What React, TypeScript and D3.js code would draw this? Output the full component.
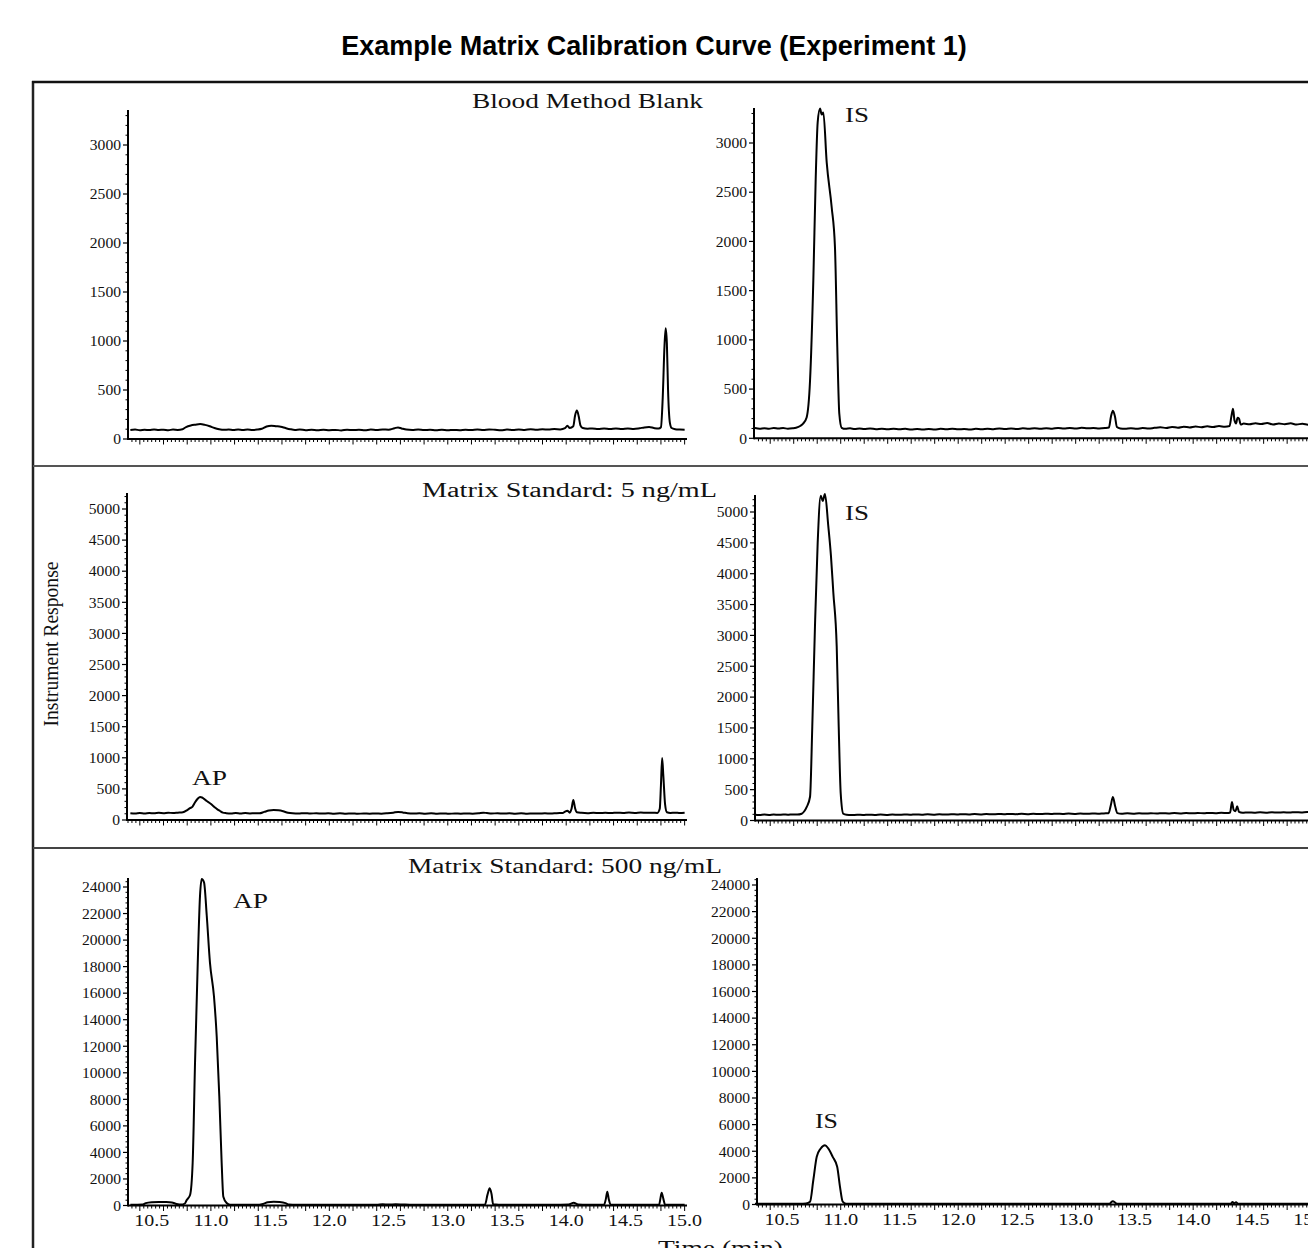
import React from "react";
import * as d3 from "d3";

type Pt = [number, number];

const W = 1308;
const H = 1248;

// ---------- axis tick values / labels ----------
const xTickValues = [10.5, 11.0, 11.5, 12.0, 12.5, 13.0, 13.5, 14.0, 14.5, 15.0];
const xTickLabels = ["10.5", "11.0", "11.5", "12.0", "12.5", "13.0", "13.5", "14.0", "14.5", "15.0"];
const yTicksBlank = [0, 500, 1000, 1500, 2000, 2500, 3000];
const yTicks5 = [0, 500, 1000, 1500, 2000, 2500, 3000, 3500, 4000, 4500, 5000];
const yTicks500 = [0, 2000, 4000, 6000, 8000, 10000, 12000, 14000, 16000, 18000, 20000, 22000, 24000];

// ---------- text ----------
const chartTitle = "Example Matrix Calibration Curve (Experiment 1)";
const panelTitles = ["Blood Method Blank", "Matrix Standard: 5 ng/mL", "Matrix Standard: 500 ng/mL"];
const yAxisTitle = "Instrument Response";
const xAxisTitle = "Time (min)";

// ---------- series: [time (min), response] ----------
const blankAnalyte: Pt[] = [
  [10.32, 92], [10.36, 96], [10.40, 90], [10.44, 95], [10.48, 91], [10.52, 97], [10.56, 92], [10.60, 95],
  [10.64, 90], [10.68, 96], [10.72, 93], [10.76, 100], [10.79, 122], [10.83, 138], [10.87, 146], [10.91, 152],
  [10.95, 144], [10.99, 130], [11.03, 112], [11.07, 100], [11.11, 94], [11.15, 97], [11.19, 91], [11.23, 96],
  [11.27, 92], [11.31, 98], [11.35, 93], [11.39, 96], [11.43, 104], [11.47, 128], [11.51, 136], [11.55, 131],
  [11.59, 126], [11.63, 112], [11.67, 100], [11.71, 93], [11.75, 97], [11.80, 90], [11.85, 94], [11.90, 89],
  [11.95, 95], [12.00, 90], [12.05, 93], [12.10, 88], [12.15, 94], [12.20, 91], [12.25, 95], [12.30, 90],
  [12.35, 96], [12.40, 92], [12.45, 98], [12.50, 95], [12.55, 110], [12.58, 118], [12.61, 108], [12.65, 96],
  [12.70, 92], [12.75, 97], [12.80, 91], [12.85, 95], [12.90, 90], [12.95, 94], [13.00, 89], [13.05, 93],
  [13.10, 90], [13.15, 95], [13.20, 91], [13.25, 96], [13.30, 92], [13.35, 98], [13.40, 94], [13.45, 90],
  [13.50, 96], [13.55, 92], [13.60, 97], [13.65, 93], [13.70, 99], [13.75, 95], [13.80, 100], [13.85, 96],
  [13.90, 101], [13.95, 98], [13.99, 110], [14.01, 135], [14.03, 112], [14.06, 130], [14.075, 240], [14.09, 290],
  [14.105, 235], [14.12, 140], [14.14, 112], [14.18, 105], [14.22, 108], [14.27, 103], [14.32, 107], [14.37, 101],
  [14.42, 106], [14.47, 102], [14.52, 108], [14.57, 103], [14.62, 110], [14.66, 118], [14.70, 122], [14.74, 112],
  [14.78, 106], [14.80, 120], [14.815, 420], [14.83, 950], [14.84, 1130], [14.85, 980], [14.86, 500], [14.875, 170],
  [14.89, 112], [14.92, 100], [14.96, 96], [15.0, 94],
];

const blankIS: Pt[] = [
  [10.27, 104], [10.31, 98], [10.35, 103], [10.39, 97], [10.43, 105], [10.47, 99], [10.51, 104], [10.55, 98],
  [10.59, 102], [10.62, 108], [10.655, 125], [10.68, 150], [10.71, 212], [10.739, 587], [10.767, 1607], [10.787, 2628],
  [10.804, 3210], [10.824, 3350], [10.838, 3290], [10.852, 3310], [10.881, 2800], [10.923, 2350], [10.951, 1945],
  [10.971, 925], [10.988, 250], [11.008, 107], [11.04, 96], [11.08, 101], [11.12, 95], [11.16, 100], [11.2, 94],
  [11.25, 99], [11.3, 93], [11.35, 98], [11.4, 92], [11.45, 97], [11.5, 91], [11.55, 96], [11.6, 90], [11.65, 95],
  [11.7, 89], [11.75, 94], [11.8, 90], [11.85, 96], [11.9, 92], [11.95, 97], [12.0, 91], [12.05, 95], [12.1, 90],
  [12.15, 96], [12.2, 92], [12.25, 98], [12.3, 93], [12.35, 99], [12.4, 94], [12.45, 100], [12.5, 95], [12.55, 101],
  [12.6, 96], [12.65, 102], [12.7, 97], [12.75, 103], [12.8, 98], [12.85, 104], [12.9, 99], [12.95, 105], [13.0, 100],
  [13.05, 106], [13.1, 101], [13.15, 105], [13.2, 100], [13.25, 104], [13.283, 110], [13.3, 220], [13.317, 280],
  [13.334, 225], [13.351, 115], [13.38, 100], [13.42, 96], [13.47, 102], [13.52, 97], [13.57, 104], [13.62, 99],
  [13.67, 106], [13.72, 112], [13.77, 105], [13.82, 115], [13.87, 108], [13.92, 118], [13.97, 110], [14.02, 120],
  [14.07, 112], [14.12, 122], [14.17, 114], [14.22, 124], [14.27, 118], [14.31, 125], [14.325, 220], [14.339, 300],
  [14.352, 180], [14.365, 150], [14.378, 210], [14.39, 200], [14.405, 140], [14.43, 150], [14.48, 142], [14.53, 152],
  [14.58, 145], [14.63, 155], [14.68, 140], [14.73, 150], [14.78, 143], [14.83, 152], [14.88, 140], [14.93, 148],
  [14.98, 138], [15.02, 145],
];

const std5Analyte: Pt[] = [
  [10.32, 110], [10.36, 105], [10.40, 112], [10.44, 106], [10.48, 113], [10.52, 107], [10.56, 115], [10.60, 110],
  [10.64, 117], [10.68, 112], [10.72, 118], [10.764, 125], [10.80, 160], [10.824, 190], [10.845, 215], [10.865, 280],
  [10.89, 345], [10.908, 370], [10.925, 362], [10.942, 340], [10.965, 305], [10.992, 270], [11.015, 235], [11.035, 200],
  [11.055, 170], [11.077, 145], [11.10, 118], [11.13, 110], [11.17, 106], [11.21, 112], [11.25, 105], [11.29, 111],
  [11.33, 106], [11.37, 110], [11.41, 108], [11.45, 130], [11.49, 152], [11.53, 160], [11.57, 155], [11.61, 140],
  [11.65, 118], [11.69, 108], [11.74, 104], [11.79, 110], [11.84, 104], [11.89, 109], [11.94, 103], [11.99, 108],
  [12.04, 102], [12.09, 107], [12.14, 101], [12.19, 106], [12.24, 100], [12.29, 105], [12.34, 101], [12.39, 106],
  [12.44, 102], [12.49, 108], [12.54, 118], [12.58, 130], [12.62, 122], [12.66, 108], [12.71, 103], [12.76, 108],
  [12.81, 102], [12.86, 107], [12.91, 101], [12.96, 106], [13.01, 100], [13.06, 105], [13.11, 101], [13.16, 106],
  [13.21, 102], [13.26, 108], [13.30, 118], [13.33, 112], [13.37, 104], [13.42, 109], [13.47, 103], [13.52, 108],
  [13.57, 102], [13.62, 107], [13.67, 101], [13.72, 106], [13.77, 103], [13.82, 108], [13.87, 104], [13.92, 110],
  [13.97, 112], [13.99, 135], [14.01, 150], [14.03, 118], [14.045, 180], [14.06, 320], [14.075, 190], [14.09, 125],
  [14.13, 115], [14.18, 110], [14.23, 116], [14.28, 111], [14.33, 117], [14.38, 112], [14.43, 118], [14.48, 113],
  [14.53, 119], [14.58, 114], [14.63, 120], [14.68, 115], [14.73, 118], [14.77, 114], [14.79, 180], [14.80, 560],
  [14.81, 997], [14.82, 720], [14.835, 250], [14.85, 125], [14.88, 114], [14.92, 118], [14.96, 112], [15.0, 116],
];

const std5IS: Pt[] = [
  [10.27, 95], [10.31, 90], [10.35, 96], [10.39, 91], [10.43, 97], [10.47, 92], [10.51, 98], [10.55, 93],
  [10.59, 99], [10.63, 96], [10.668, 110], [10.69, 150], [10.711, 220], [10.739, 385], [10.758, 1520], [10.781, 3150],
  [10.804, 4500], [10.83, 5265], [10.847, 5180], [10.866, 5290], [10.894, 4780], [10.917, 4290], [10.937, 3700],
  [10.966, 2820], [10.983, 1520], [11.0, 440], [11.022, 110], [11.05, 92], [11.09, 88], [11.14, 94], [11.19, 89],
  [11.24, 95], [11.29, 90], [11.34, 96], [11.39, 91], [11.44, 97], [11.49, 92], [11.54, 98], [11.59, 93], [11.64, 99],
  [11.69, 94], [11.74, 100], [11.79, 95], [11.84, 101], [11.89, 96], [11.94, 102], [11.99, 97], [12.04, 103],
  [12.09, 98], [12.14, 104], [12.19, 99], [12.24, 105], [12.29, 100], [12.34, 106], [12.39, 101], [12.44, 107],
  [12.49, 102], [12.54, 108], [12.59, 103], [12.64, 109], [12.69, 104], [12.74, 110], [12.79, 105], [12.84, 111],
  [12.89, 106], [12.94, 112], [12.99, 107], [13.04, 113], [13.09, 108], [13.14, 114], [13.19, 109], [13.24, 115],
  [13.28, 118], [13.298, 240], [13.317, 380], [13.336, 230], [13.355, 120], [13.39, 110], [13.44, 116], [13.49, 111],
  [13.54, 117], [13.59, 112], [13.64, 118], [13.69, 113], [13.74, 119], [13.79, 114], [13.84, 120], [13.89, 115],
  [13.94, 121], [13.99, 116], [14.04, 122], [14.09, 117], [14.14, 123], [14.19, 118], [14.24, 124], [14.29, 120],
  [14.315, 130], [14.33, 300], [14.345, 170], [14.36, 150], [14.375, 230], [14.39, 140], [14.42, 125], [14.47, 131],
  [14.52, 126], [14.57, 132], [14.62, 127], [14.67, 133], [14.72, 128], [14.77, 134], [14.82, 129], [14.87, 135],
  [14.92, 130], [14.97, 136], [15.02, 131],
];

const std500Analyte: Pt[] = [
  [10.32, 60], [10.38, 62], [10.42, 70], [10.45, 180], [10.50, 250], [10.56, 270], [10.62, 260], [10.67, 230],
  [10.71, 120], [10.75, 70], [10.78, 150], [10.796, 414], [10.824, 792], [10.846, 3220], [10.866, 10760],
  [10.889, 18300], [10.908, 23330], [10.922, 24600], [10.942, 24350], [10.965, 21830], [10.992, 18300],
  [11.026, 15750], [11.049, 12740], [11.071, 8220], [11.091, 3190], [11.105, 660], [11.133, 190], [11.161, 60],
  [11.22, 55], [11.30, 60], [11.38, 55], [11.44, 120], [11.48, 240], [11.53, 280], [11.58, 260], [11.63, 180],
  [11.66, 70], [11.72, 55], [11.80, 60], [11.90, 52], [12.00, 58], [12.10, 50], [12.20, 56], [12.30, 52],
  [12.40, 58], [12.45, 90], [12.50, 70], [12.56, 95], [12.62, 75], [12.68, 55], [12.78, 58], [12.88, 50],
  [12.98, 56], [13.08, 52], [13.18, 58], [13.26, 54], [13.315, 80], [13.335, 800], [13.354, 1296], [13.37, 850],
  [13.383, 90], [13.43, 55], [13.53, 60], [13.63, 52], [13.73, 58], [13.83, 54], [13.93, 60], [14.02, 70],
  [14.064, 200], [14.10, 70], [14.18, 55], [14.26, 60], [14.32, 60], [14.335, 500], [14.347, 1040], [14.36, 450],
  [14.375, 60], [14.45, 55], [14.55, 60], [14.65, 52], [14.74, 58], [14.785, 70], [14.795, 500], [14.806, 965],
  [14.82, 520], [14.835, 70], [14.9, 55], [14.96, 58], [15.0, 54],
];

const std500IS: Pt[] = [
  [10.27, 50], [10.35, 55], [10.45, 48], [10.55, 54], [10.65, 50], [10.705, 80], [10.739, 210], [10.767, 1840],
  [10.796, 3580], [10.83, 4210], [10.866, 4460], [10.894, 4210], [10.932, 3580], [10.97, 2830], [10.994, 1330],
  [11.017, 210], [11.045, 60], [11.12, 52], [11.22, 56], [11.32, 50], [11.42, 55], [11.52, 49], [11.62, 54],
  [11.72, 50], [11.82, 55], [11.92, 49], [12.02, 54], [12.12, 50], [12.22, 55], [12.32, 49], [12.42, 54],
  [12.52, 50], [12.62, 55], [12.72, 51], [12.82, 56], [12.92, 50], [13.02, 55], [13.12, 51], [13.22, 56],
  [13.29, 55], [13.30, 150], [13.317, 240], [13.335, 150], [13.35, 58], [13.45, 52], [13.55, 57], [13.65, 51],
  [13.75, 56], [13.85, 52], [13.95, 57], [14.05, 53], [14.15, 58], [14.25, 54], [14.32, 60], [14.335, 180],
  [14.35, 90], [14.365, 170], [14.38, 60], [14.48, 56], [14.58, 60], [14.68, 54], [14.78, 58], [14.88, 53],
  [14.98, 57], [15.02, 55],
];

const SERIF = "'Liberation Serif', 'Times New Roman', Times, serif";
const SANS = "'Liberation Sans', Arial, Helvetica, sans-serif";

type PanelSpec = {
  data: Pt[];
  axisX: number;
  xRange: [number, number];
  xDomain: [number, number];
  y0: number;
  yRefVal: number;
  yRefPx: number;
  axisTop: number;
  yTicks: number[];
  yMinorStep: number;
  showXLabels: boolean;
  peakLabel?: { text: string; x: number; y: number; len: number };
};

const LEFT_X: [number, number] = [128, 687];
const LEFT_DOM: [number, number] = [10.3, 15.02];
const RIGHT_X: [number, number] = [754, 1313];
const RIGHT_DOM: [number, number] = [10.262, 15.02];

const panels: PanelSpec[] = [
  { data: blankAnalyte, axisX: 128, xRange: LEFT_X, xDomain: LEFT_DOM, y0: 439, yRefVal: 3000, yRefPx: 145, axisTop: 110, yTicks: yTicksBlank, yMinorStep: 100, showXLabels: false },
  { data: blankIS, axisX: 754, xRange: RIGHT_X, xDomain: RIGHT_DOM, y0: 438.3, yRefVal: 3000, yRefPx: 143, axisTop: 108, yTicks: yTicksBlank, yMinorStep: 100, showXLabels: false, peakLabel: { text: "IS", x: 845, y: 122, len: 24 } },
  { data: std5Analyte, axisX: 127, xRange: LEFT_X, xDomain: LEFT_DOM, y0: 820, yRefVal: 5000, yRefPx: 509, axisTop: 493, yTicks: yTicks5, yMinorStep: 100, showXLabels: false, peakLabel: { text: "AP", x: 192, y: 785, len: 35 } },
  { data: std5IS, axisX: 755, xRange: RIGHT_X, xDomain: RIGHT_DOM, y0: 820.5, yRefVal: 5000, yRefPx: 512, axisTop: 495, yTicks: yTicks5, yMinorStep: 100, showXLabels: false, peakLabel: { text: "IS", x: 845, y: 520, len: 24 } },
  { data: std500Analyte, axisX: 128, xRange: LEFT_X, xDomain: LEFT_DOM, y0: 1205.5, yRefVal: 24000, yRefPx: 887, axisTop: 878, yTicks: yTicks500, yMinorStep: 400, showXLabels: true, peakLabel: { text: "AP", x: 233, y: 908, len: 35 } },
  { data: std500IS, axisX: 757, xRange: RIGHT_X, xDomain: RIGHT_DOM, y0: 1204.5, yRefVal: 24000, yRefPx: 885, axisTop: 878, yTicks: yTicks500, yMinorStep: 400, showXLabels: true, peakLabel: { text: "IS", x: 815, y: 1128, len: 23 } },
];

function Panel({ p }: { p: PanelSpec }) {
  const xs = d3.scaleLinear().domain(p.xDomain).range(p.xRange);
  const ys = d3.scaleLinear().domain([0, p.yRefVal]).range([p.y0, p.yRefPx]);
  const topVal = ys.invert(p.axisTop);
  const majorSet = new Set(p.yTicks);
  const minorY = d3.range(0, topVal, p.yMinorStep).filter((v) => !majorSet.has(v));
  const tStart = xs.invert(p.axisX);
  const tEnd = p.xDomain[1];
  const xTicks: { t: number; major: boolean }[] = [];
  for (let i = 0; i < 200; i++) {
    const t = 10 + i / 30;
    if (t < tStart + 0.005 || t > tEnd) continue;
    xTicks.push({ t, major: i % 6 === 0 });
  }
  const line = d3
    .line<Pt>()
    .x((d) => xs(d[0]))
    .y((d) => ys(d[1]))
    .curve(d3.curveMonotoneX);

  return (
    <g>
      <path d={line(p.data) || ""} fill="none" stroke="#000" strokeWidth={2} strokeLinejoin="round" />
      {/* y axis */}
      <line x1={p.axisX} x2={p.axisX} y1={p.axisTop} y2={p.y0 + 1} stroke="#000" strokeWidth={2} />
      {minorY.map((v) => (
        <line key={"ym" + v} x1={p.axisX - 2.5} x2={p.axisX} y1={ys(v)} y2={ys(v)} stroke="#000" strokeWidth={1} />
      ))}
      {p.yTicks.map((v) => (
        <g key={"yt" + v}>
          <line x1={p.axisX - 5} x2={p.axisX} y1={ys(v)} y2={ys(v)} stroke="#000" strokeWidth={1.2} />
          <text
            x={p.axisX - 7}
            y={ys(v)}
            dy="0.35em"
            textAnchor="end"
            fontFamily={SERIF}
            fontSize={15}
            fill="#111"
            textLength={String(v).length * 7.8}
            lengthAdjust="spacingAndGlyphs"
          >
            {String(v)}
          </text>
        </g>
      ))}
      {/* x axis */}
      <line x1={p.axisX} x2={p.xRange[1]} y1={p.y0} y2={p.y0} stroke="#000" strokeWidth={2} />
      {xTicks.map((tk, i) => (
        <line
          key={"xt" + i}
          x1={xs(tk.t)}
          x2={xs(tk.t)}
          y1={p.y0}
          y2={p.y0 + (tk.major ? 5.5 : 3)}
          stroke="#000"
          strokeWidth={1}
        />
      ))}
      {p.showXLabels &&
        xTickValues.map((t, i) => (
          <text
            key={"xl" + i}
            x={xs(t)}
            y={p.y0 + 20}
            textAnchor="middle"
            fontFamily={SERIF}
            fontSize={16}
            fill="#111"
            textLength={35}
            lengthAdjust="spacingAndGlyphs"
          >
            {xTickLabels[i]}
          </text>
        ))}
      {p.peakLabel && (
        <text
          x={p.peakLabel.x}
          y={p.peakLabel.y}
          fontFamily={SERIF}
          fontSize={20}
          fill="#111"
          textLength={p.peakLabel.len}
          lengthAdjust="spacingAndGlyphs"
        >
          {p.peakLabel.text}
        </text>
      )}
    </g>
  );
}

const titleSpecs = [
  { x: 472, y: 108, len: 231 },
  { x: 422, y: 497, len: 295 },
  { x: 408, y: 873, len: 314 },
];

export default function App() {
  return (
    <svg
      width={W}
      height={H}
      viewBox={`0 0 ${W} ${H}`}
      style={{ position: "absolute", left: 0, top: 0, background: "#fff" }}
    >
      <rect x={0} y={0} width={W} height={H} fill="#fff" />
      <text x={654} y={55} textAnchor="middle" fontFamily={SANS} fontWeight="bold" fontSize={27} fill="#000">
        {chartTitle}
      </text>

      {/* frame */}
      <line x1={33} x2={33} y1={81} y2={H} stroke="#222" strokeWidth={2.5} />
      <line x1={32} x2={W} y1={82} y2={82} stroke="#111" strokeWidth={2.5} />
      <line x1={33} x2={W} y1={466} y2={466} stroke="#555" strokeWidth={2} />
      <line x1={33} x2={W} y1={848} y2={848} stroke="#444" strokeWidth={2} />

      {panelTitles.map((t, i) => (
        <text
          key={t}
          x={titleSpecs[i].x}
          y={titleSpecs[i].y}
          fontFamily={SERIF}
          fontSize={20}
          fill="#111"
          textLength={titleSpecs[i].len}
          lengthAdjust="spacingAndGlyphs"
        >
          {t}
        </text>
      ))}

      {panels.map((p, i) => (
        <Panel key={i} p={p} />
      ))}

      <text
        transform="translate(58,644) rotate(-90)"
        textAnchor="middle"
        fontFamily={SERIF}
        fontSize={22}
        fill="#111"
        textLength={165}
        lengthAdjust="spacingAndGlyphs"
      >
        {yAxisTitle}
      </text>

      <text
        x={658}
        y={1255}
        fontFamily={SERIF}
        fontSize={20}
        fill="#111"
        textLength={125}
        lengthAdjust="spacingAndGlyphs"
      >
        {xAxisTitle}
      </text>
    </svg>
  );
}
